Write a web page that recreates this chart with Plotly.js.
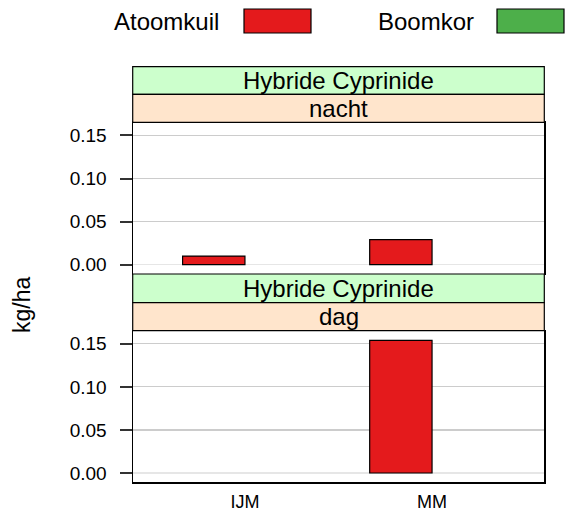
<!DOCTYPE html>
<html>
<head>
<meta charset="utf-8">
<script src="https://cdn.plot.ly/plotly-3.0.1.min.js"></script>
<style>html,body{margin:0;padding:0;background:#fff}#chart{width:568px;height:513px}</style>
</head>
<body>
<div id="chart"></div>
<script>
// ---- data ----
var categories = ["IJM", "MM"];
var seriesNames = ["Atoomkuil", "Boomkor"];
var atoomkuilNacht = [0.010, 0.029];
var boomkorNacht = [null, null];
var atoomkuilDag = [null, 0.154];
var boomkorDag = [null, null];
var panelTop = ["Hybride Cyprinide", "nacht"];
var panelBottom = ["Hybride Cyprinide", "dag"];
var yTicks = [0, 0.05, 0.10, 0.15];
var yTickLabels = ["0.00", "0.05", "0.10", "0.15"];
var yTitle = "kg/ha";

// ---- layout helpers (pixel -> paper) ----
var W = 568, H = 513;
function px(x) { return x / W; }
function py(y) { return 1 - y / H; }

var RED = "#E41A1C", GREEN = "#4DAF4A";
var STRIP1 = "#CCFFCC", STRIP2 = "#FFE5CC";
var FONT = "Liberation Sans, Arial, Helvetica, sans-serif";

var L = 132.7, R = 544.3;

function bar(y, xa, ya, color, off, name) {
  return {
    type: "bar", x: categories, y: y, xaxis: xa, yaxis: ya, name: name,
    width: 1/3, offset: off,
    marker: {color: color, line: {color: "#000", width: 1.2}},
    showlegend: false, hoverinfo: "x+y"
  };
}

var data = [
  bar(atoomkuilNacht, "x2", "y2", RED, -1/3, seriesNames[0]),
  bar(boomkorNacht, "x2", "y2", GREEN, 0, seriesNames[1]),
  bar(atoomkuilDag, "x", "y", RED, -1/3, seriesNames[0]),
  bar(boomkorDag, "x", "y", GREEN, 0, seriesNames[1])
];

var yRange = [-0.0108, 0.1652];
function yaxis(domain, anchor) {
  return {
    domain: domain, anchor: anchor, range: yRange,
    tickvals: yTicks, ticktext: yTickLabels,
    ticks: "outside", ticklen: 12, tickwidth: 2, tickcolor: "#333",
    ticklabelstandoff: 9,
    tickfont: {family: FONT, size: 19, color: "#000"},
    showgrid: true, gridcolor: "#cccccc", gridwidth: 1.2,
    zeroline: true, zerolinecolor: "#e6e6e6", zerolinewidth: 1.5,
    showline: true, linecolor: "#000", linewidth: 1.2, mirror: true,
    fixedrange: true
  };
}
function xaxis(domain, anchor, showLabels) {
  return {
    domain: domain, anchor: anchor, type: "category", range: [-0.6, 1.6],
    showticklabels: showLabels, ticks: "", ticklabelstandoff: 3,
    tickfont: {family: FONT, size: 18, color: "#000"},
    showgrid: false, zeroline: false,
    showline: true, linecolor: "#000", linewidth: 1.2, mirror: true,
    fixedrange: true
  };
}

var topPanel = [122.3, 274];
var botPanel = [330.7, 482.3];

var shapes = [];
var annotations = [];
function strip(y0, y1, color, text) {
  shapes.push({type: "rect", xref: "paper", yref: "paper",
    x0: px(L), x1: px(R), y0: py(y1), y1: py(y0),
    fillcolor: color, line: {color: "#000", width: 1.2}, layer: "above"});
  annotations.push({xref: "paper", yref: "paper", x: px((L + R) / 2), y: py((y0 + y1) / 2),
    xanchor: "center", yanchor: "middle", showarrow: false, text: text,
    font: {family: FONT, size: 24, color: "#000"}});
}
strip(66.7, 94.3, STRIP1, panelTop[0]);
strip(94.3, 122.3, STRIP2, panelTop[1]);
strip(274, 302.7, STRIP1, panelBottom[0]);
strip(302.7, 330.7, STRIP2, panelBottom[1]);

// legend (key on top)
function key(tx, rx0, rx1, color, text) {
  annotations.push({xref: "paper", yref: "paper", x: px(tx), y: py(21),
    xanchor: "left", yanchor: "middle", showarrow: false, text: text,
    font: {family: FONT, size: 24, color: "#000"}});
  shapes.push({type: "rect", xref: "paper", yref: "paper",
    x0: px(rx0), x1: px(rx1), y0: py(33), y1: py(9),
    fillcolor: color, line: {color: "#000", width: 1.2}});
}
key(112, 244, 311, RED, seriesNames[0]);
key(376, 497, 564, GREEN, seriesNames[1]);

// y title
annotations.push({xref: "paper", yref: "paper", x: px(22), y: py(305),
  xanchor: "center", yanchor: "middle", showarrow: false, text: yTitle, textangle: -90,
  font: {family: FONT, size: 23, color: "#000"}});

var layout = {
  width: W, height: H,
  margin: {l: 0, r: 0, t: 0, b: 0, pad: 0},
  paper_bgcolor: "#fff", plot_bgcolor: "#fff",
  showlegend: false, barmode: "overlay",
  xaxis: xaxis([px(L), px(R)], "y", true),
  yaxis: yaxis([py(botPanel[1]), py(botPanel[0])], "x"),
  xaxis2: xaxis([px(L), px(R)], "y2", false),
  yaxis2: yaxis([py(topPanel[1]), py(topPanel[0])], "x2"),
  shapes: shapes, annotations: annotations
};

Plotly.newPlot("chart", data, layout, {staticPlot: true, displayModeBar: false});
</script>
</body>
</html>
